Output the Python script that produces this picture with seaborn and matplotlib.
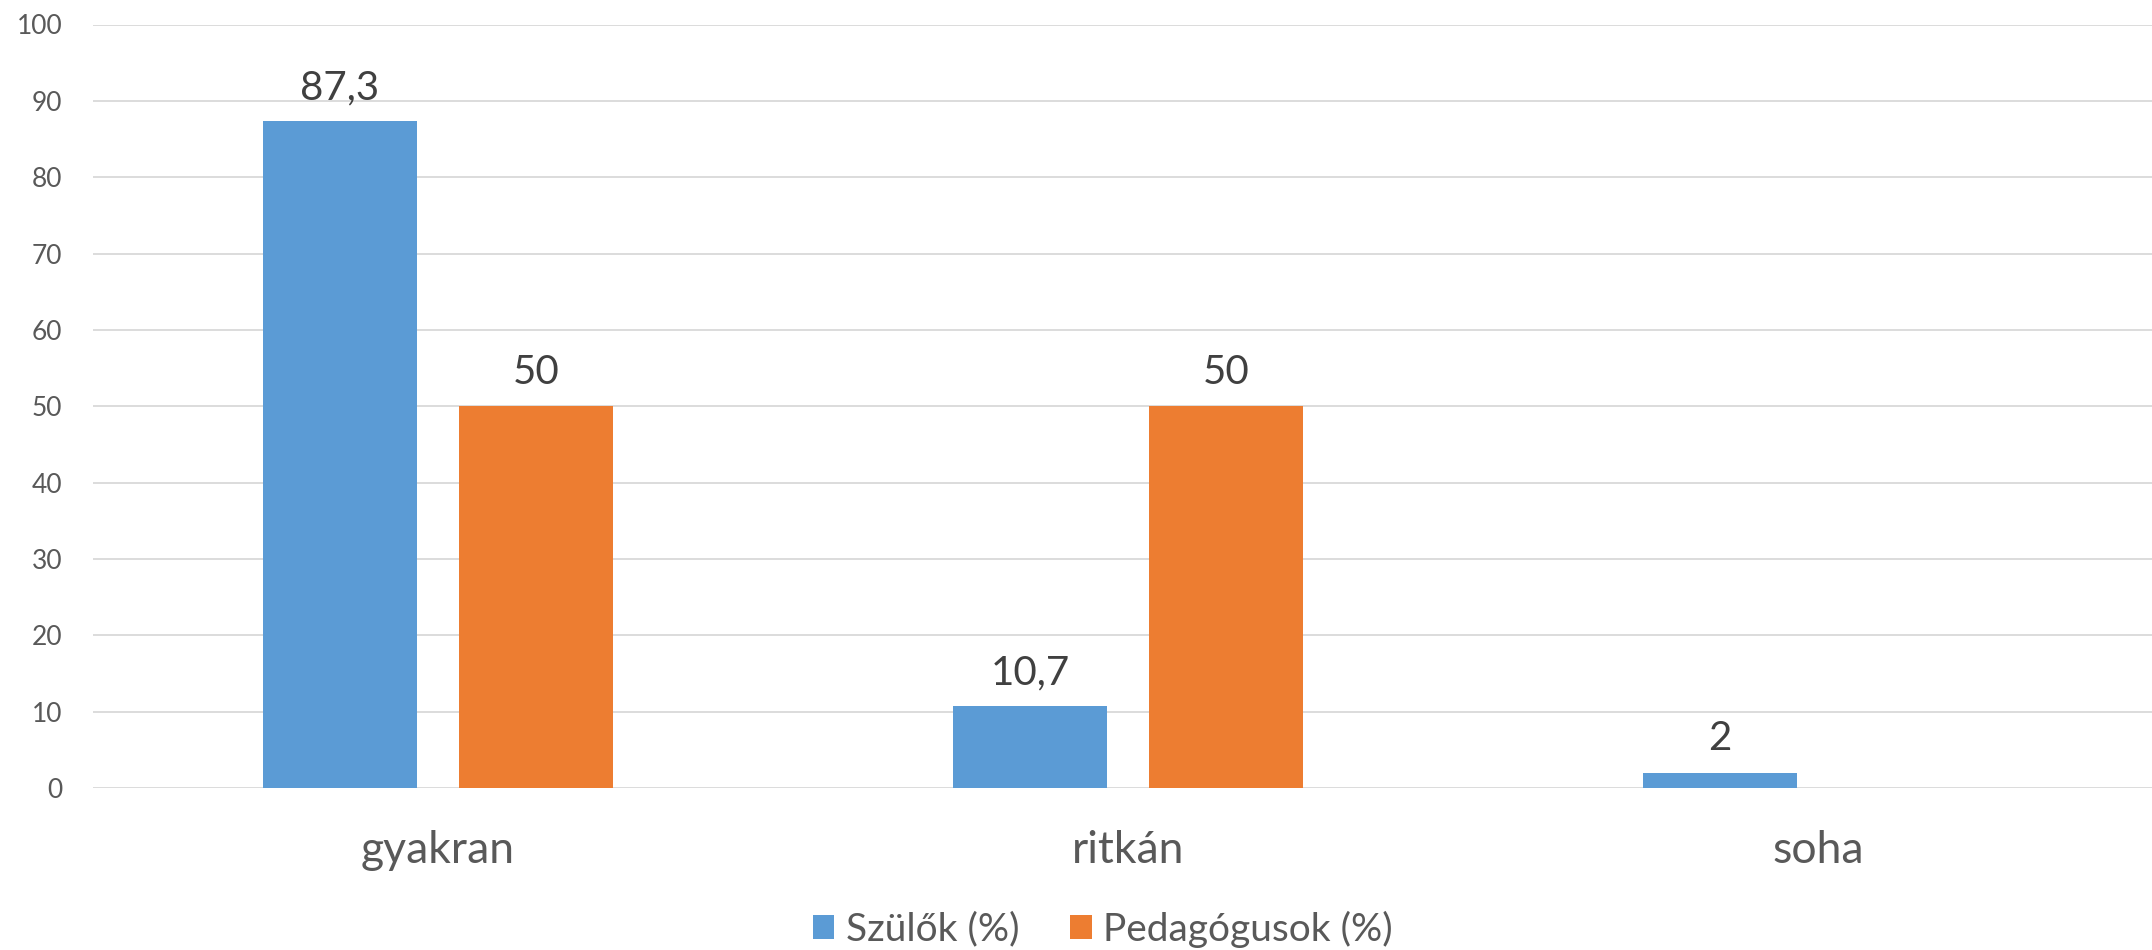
import pandas as pd
import matplotlib.pyplot as plt
import seaborn as sns
from matplotlib.patches import Patch

kategoriak = ["gyakran", "ritkán", "soha"]
szulok = [87.3, 10.7, 2]
pedagogusok = [50, 50, 0]
csoportok = ["Szülők (%)", "Pedagógusok (%)"]
szinek = ["#5B9BD5", "#ED7D31"]
y_ticks = [0, 10, 20, 30, 40, 50, 60, 70, 80, 90, 100]

df = pd.DataFrame({
    "kategoria": kategoriak * 2,
    "ertek": szulok + pedagogusok,
    "csoport": [csoportok[0]] * 3 + [csoportok[1]] * 3,
})

sns.set_theme(style="whitegrid")
plt.rcParams["font.family"] = ["Lato", "DejaVu Sans"]

fig = plt.figure(figsize=(21.52, 9.5), dpi=100)
ax = fig.add_axes([93 / 2152, 162 / 950, 1 - 93 / 2152, (788 - 24.5) / 950])

sns.barplot(data=df, x="kategoria", y="ertek", hue="csoport", palette=szinek,
            width=0.568, gap=0.215, saturation=1, linewidth=0, ax=ax)

ax.set_ylim(0, 100)
ax.set_xlim(-0.5, 2.484)
ax.set_yticks(y_ticks)
ax.grid(axis="y", color="#D9D9D9", linewidth=1.3)
ax.grid(axis="x", visible=False)
ax.set_axisbelow(True)
for s in ax.spines.values():
    s.set_visible(False)
ax.set_xlabel("")
ax.set_ylabel("")
ax.tick_params(axis="y", labelsize=19, labelcolor="#595959", length=0, pad=22)
ax.tick_params(axis="x", labelsize=32, labelcolor="#595959", length=0, pad=30)

for cont in ax.containers:
    cimkek = [("" if b.get_height() == 0 else f"{b.get_height():g}".replace(".", ","))
              for b in cont]
    ax.bar_label(cont, labels=cimkek, fontsize=29, color="#404040", padding=11)

if ax.get_legend() is not None:
    ax.get_legend().remove()
handles = [Patch(facecolor=c, edgecolor="none") for c in szinek]
fig.legend(handles, csoportok, loc="center", bbox_to_anchor=(1103 / 2152, 21 / 950),
           ncol=2, frameon=False, fontsize=28, labelcolor="#595959",
           handlelength=0.55, handleheight=0.55, handletextpad=0.3, columnspacing=1.3)

fig.savefig("out.png", dpi=100)
